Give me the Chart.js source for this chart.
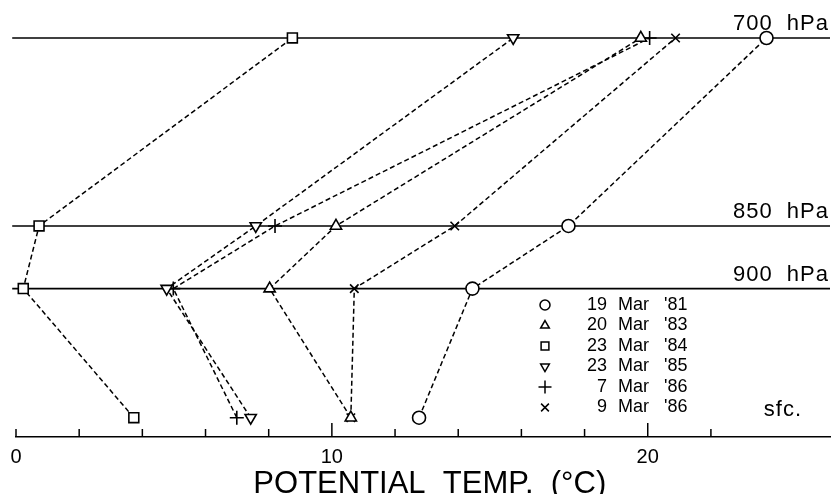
<!DOCTYPE html>
<html>
<head>
<meta charset="utf-8">
<script src="https://cdn.jsdelivr.net/npm/chart.js@4/dist/chart.umd.min.js"></script>
<style>
  html, body { margin: 0; padding: 0; background: #fff; }
  #wrap { width: 838px; height: 494px; }
</style>
</head>
<body>
<div id="wrap"><canvas id="c" width="838" height="494"></canvas></div>
<script>
const FONT = '"Liberation Sans", Arial, Helvetica, sans-serif';

// Pressure levels (hPa), from the surface upward; the surface is placed at a nominal 1003 hPa
const levelValues = [1003, 900, 850, 700];
const levelLabels = ['sfc.', '900  hPa', '850  hPa', '700  hPa'];

// Cases
const caseLabels = ["19 Mar '81", "20 Mar '83", "23 Mar '84", "23 Mar '85", "7 Mar '86", "9 Mar '86"];

// Potential temperature (°C) at sfc, 900, 850 and 700 hPa
const theta19Mar81 = [12.76, 14.45, 17.49, 23.76];
const theta20Mar83 = [10.60, 8.03, 10.13, 19.78];
const theta23Mar84 = [3.73, 0.23, 0.73, 8.75];
const theta23Mar85 = [7.43, 4.77, 7.59, 15.74];
const theta7Mar86  = [6.99, 4.98, 8.20, 20.06];
const theta9Mar86  = [10.60, 10.71, 13.89, 20.88];

// Axis ticks: a mark every 2 °C, a label every 10 °C
const xTickStep = 2;
const xLabelStep = 10;

const series = [theta19Mar81, theta20Mar83, theta23Mar84, theta23Mar85, theta7Mar86, theta9Mar86];

// Marker look per case
const markers = [
  { pointStyle: 'circle',   radius: 6.5, rotation: 0,   legendRadius: 5 },
  { pointStyle: 'triangle', radius: 6.5, rotation: 0,   legendRadius: 5 },
  { pointStyle: 'rect',     radius: 7,   rotation: 0,   legendRadius: 5.5 },
  { pointStyle: 'triangle', radius: 6.5, rotation: 180, legendRadius: 5 },
  { pointStyle: 'cross',    radius: 7,   rotation: 0,   legendRadius: 6.5 },
  { pointStyle: 'crossRot', radius: 6,   rotation: 0,   legendRadius: 5.5 }
];

const datasets = series.map((vals, i) => ({
  label: caseLabels[i],
  data: vals.map((v, k) => ({ x: v, y: levelValues[k] })),
  showLine: true,
  fill: false,
  tension: 0,
  borderColor: '#000',
  borderWidth: 1.5,
  borderDash: [5, 3],
  pointStyle: markers[i].pointStyle,
  pointRadius: markers[i].radius,
  pointRotation: markers[i].rotation,
  pointBackgroundColor: '#fff',
  pointBorderColor: '#000',
  pointBorderWidth: 1.6,
  clip: false
}));

// Horizontal pressure-level lines with their labels
const levelLines = {
  id: 'levelLines',
  beforeDatasetsDraw(chart) {
    const { ctx, chartArea, scales: { x, y } } = chart;
    ctx.save();
    ctx.strokeStyle = '#000';
    ctx.lineWidth = 1.6;
    ctx.fillStyle = '#000';
    ctx.textBaseline = 'alphabetic';
    ctx.font = '22px ' + FONT;
    ctx.textAlign = 'right';
    if ('letterSpacing' in ctx) ctx.letterSpacing = '1px';
    levelValues.forEach((p, k) => {
      const py = y.getPixelForValue(p);
      if (k > 0) {
        ctx.beginPath();
        ctx.moveTo(x.getPixelForValue(-0.12), py);
        ctx.lineTo(chartArea.right, py);
        ctx.stroke();
        ctx.fillText(levelLabels[k], 829, py - 8);
      } else {
        ctx.fillText(levelLabels[k], 802, py - 2);
      }
    });
    ctx.restore();
  }
};

// Upward tick marks on the temperature axis
const axisTicks = {
  id: 'axisTicks',
  afterDraw(chart) {
    const { ctx, scales: { x } } = chart;
    const base = x.top;
    ctx.save();
    ctx.strokeStyle = '#000';
    ctx.lineWidth = 1.5;
    x.ticks.forEach(t => {
      const q = t.value / xTickStep;
      if (Math.abs(q - Math.round(q)) > 1e-6) return;
      const major = t.value !== 0 && Math.abs(t.value % xLabelStep) < 1e-6;
      const px = x.getPixelForValue(t.value);
      ctx.beginPath();
      ctx.moveTo(px, base);
      ctx.lineTo(px, base - (major ? 14 : 8));
      ctx.stroke();
    });
    ctx.restore();
  }
};

// Key of cases inside the plot
const caseKey = {
  id: 'caseKey',
  afterDatasetsDraw(chart) {
    const { ctx } = chart;
    ctx.save();
    ctx.font = '18px ' + FONT;
    ctx.fillStyle = '#000';
    ctx.textBaseline = 'middle';
    chart.data.datasets.forEach((ds, i) => {
      const cy = 305 + i * 20.5;
      ctx.save();
      ctx.fillStyle = '#fff';
      ctx.strokeStyle = '#000';
      ctx.lineWidth = 1.5;
      Chart.helpers.drawPoint(ctx, {
        pointStyle: markers[i].pointStyle,
        rotation: markers[i].rotation,
        radius: markers[i].legendRadius,
        borderWidth: 1.5
      }, 545, cy);
      ctx.restore();
      const parts = ds.label.split(' ');
      ctx.textAlign = 'right';
      ctx.fillText(parts[0], 607, cy);
      ctx.textAlign = 'left';
      ctx.fillText(parts[1], 618, cy);
      ctx.fillText(parts[2], 664, cy);
    });
    ctx.restore();
  }
};

// Axis title, centred under the scale's labelled span
const axisTitle = {
  id: 'axisTitle',
  afterDraw(chart) {
    const { ctx, scales: { x } } = chart;
    ctx.save();
    ctx.font = '31px ' + FONT;
    ctx.fillStyle = '#000';
    ctx.textAlign = 'center';
    ctx.textBaseline = 'alphabetic';
    ctx.fillText('POTENTIAL  TEMP.  (°C)', x.getPixelForValue(13.1), x.bottom - 1);
    ctx.restore();
  }
};

new Chart(document.getElementById('c'), {
  type: 'scatter',
  data: { datasets },
  plugins: [levelLines, axisTicks, caseKey, axisTitle],
  options: {
    responsive: false,
    animation: false,
    layout: { autoPadding: false, padding: { left: 16, right: 0, top: 0, bottom: 0 } },
    plugins: {
      legend: { display: false },
      tooltip: { enabled: false },
      title: { display: false }
    },
    scales: {
      x: {
        type: 'linear',
        position: 'bottom',
        min: 0,
        max: 25.77,
        grid: { display: false, drawTicks: false },
        border: { display: true, color: '#000', width: 1.6 },
        ticks: {
          stepSize: xTickStep,
          padding: 8,
          color: '#000',
          font: { family: FONT, size: 20 },
          maxRotation: 0,
          autoSkip: false,
          callback: v => (Math.abs(v % xLabelStep) < 1e-6 ? String(v) : '')
        },
        title: { display: false },
        afterFit(scale) { scale.height = 57; }
      },
      y: {
        type: 'linear',
        display: false,
        reverse: true,
        min: 669.7,
        max: 1018.4
      }
    }
  }
});
</script>
</body>
</html>
